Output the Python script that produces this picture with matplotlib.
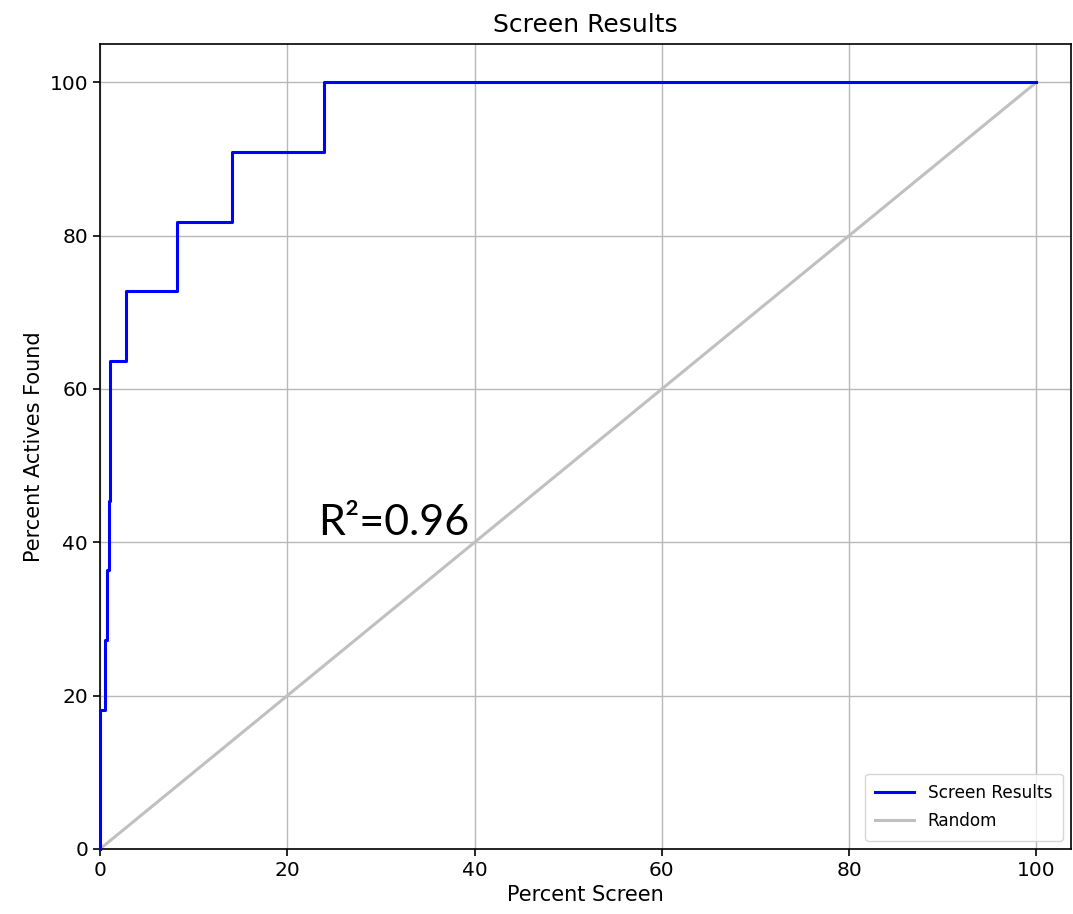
import matplotlib
matplotlib.use("Agg")
import matplotlib.pyplot as plt

# cumulative screen curve (percent screened vs percent actives found)
screen_pct = [0, 0, 0.5, 0.8, 0.95, 1.1, 2.8, 8.2, 14.1, 23.9, 100]
actives_pct = [0, 18.18, 27.27, 36.36, 45.45, 63.64, 72.73, 81.82, 90.91, 100, 100]

random_x = [0, 100]
random_y = [0, 100]

ticks = [0, 20, 40, 60, 80, 100]
r2_label = "R\u00b2=0.96"

fig = plt.figure(figsize=(10.73, 9.14), dpi=100)
ax = fig.add_axes([100 / 1073, 65 / 914, 971 / 1073, 805 / 914])

ax.plot(screen_pct, actives_pct, drawstyle="steps-post", color="blue",
        linewidth=2.2, label="Screen Results", clip_on=False, zorder=3)
ax.plot(random_x, random_y, color="#c0c0c0", linewidth=2.2, label="Random")

ax.set_xlim(0, 103.7)
ax.set_ylim(0, 105)
ax.set_xticks(ticks)
ax.set_yticks(ticks)
ax.grid(True, color="#b8b8b8", linewidth=1.0)
ax.set_axisbelow(True)
ax.tick_params(labelsize=14.5, length=5, width=1.2)
for s in ax.spines.values():
    s.set_linewidth(1.2)

ax.set_xlabel("Percent Screen", fontsize=15)
ax.set_ylabel("Percent Actives Found", fontsize=15)
ax.set_title("Screen Results", fontsize=18, pad=9)

ax.text(23.3, 41, r2_label, fontsize=31, family=["Lato", "DejaVu Sans"],
        ha="left", va="baseline")

ax.legend(loc="lower right", fontsize=12.2, handlelength=2.3, borderpad=0.6,
          labelspacing=0.6)

fig.savefig("out.png", dpi=100)
